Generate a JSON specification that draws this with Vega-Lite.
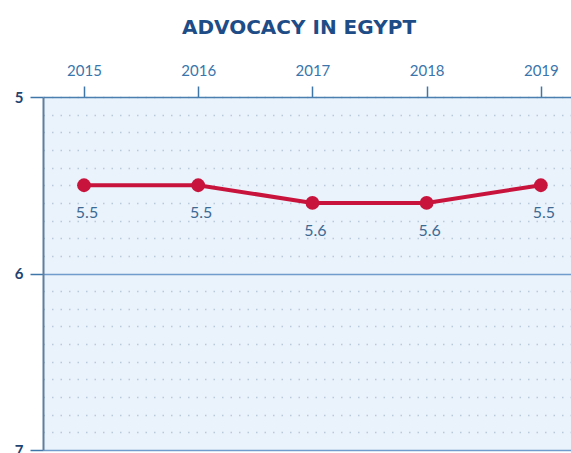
{
  "$schema": "https://vega.github.io/schema/vega-lite/v6.json",
  "autosize": "none",
  "padding": {"left": 43, "top": 97, "right": 0, "bottom": 3},
  "width": 528,
  "height": 353,
  "background": "#ffffff",
  "title": {
    "text": "ADVOCACY IN EGYPT",
    "font": "DejaVu Sans",
    "fontWeight": "bold",
    "fontSize": 20,
    "color": "#1d4c86",
    "anchor": "middle",
    "dx": -8,
    "offset": 25
  },
  "config": {
    "view": {"fill": "#eaf2fb", "stroke": null}
  },
  "data": {
    "values": [
      {"year": 2015, "score": 5.5},
      {"year": 2016, "score": 5.5},
      {"year": 2017, "score": 5.6},
      {"year": 2018, "score": 5.6},
      {"year": 2019, "score": 5.5}
    ]
  },
  "encoding": {
    "x": {
      "field": "year",
      "type": "quantitative",
      "scale": {"domain": [2014.641, 2019.264], "nice": false, "zero": false},
      "axis": {
        "orient": "top",
        "title": null,
        "values": [2015, 2016, 2017, 2018, 2019],
        "format": "d",
        "grid": false,
        "domainColor": "#4a7fb0",
        "domainWidth": 1.5,
        "tickColor": "#3f76aa",
        "tickWidth": 1.5,
        "tickSize": 11,
        "labelColor": "#3a75ab",
        "labelFont": "Lato",
        "labelFontSize": 15,
        "labelPadding": 8
      }
    },
    "y": {
      "field": "score",
      "type": "quantitative",
      "scale": {"domain": [5, 7], "reverse": true, "nice": false, "zero": false},
      "axis": {
        "title": null,
        "values": [5, 5.1, 5.2, 5.3, 5.4, 5.5, 5.6, 5.7, 5.8, 5.9, 6, 6.1, 6.2, 6.3, 6.4, 6.5, 6.6, 6.7, 6.8, 6.9, 7],
        "labelExpr": "(datum.value == 5 || datum.value == 6 || datum.value == 7) ? ('' + datum.value) : ''",
        "labelOverlap": false,
        "labelColor": "#1f4370",
        "labelFont": "Lato",
        "labelFontWeight": "bold",
        "labelFontSize": 15,
        "labelPadding": 7,
        "labelBaseline": "middle",
        "domainColor": "#5f7f9f",
        "domainWidth": 2,
        "tickColor": "#3f76aa",
        "tickWidth": 1.5,
        "tickSize": {"condition": {"test": "datum.value == 5 || datum.value == 6 || datum.value == 7", "value": 13}, "value": 0},
        "grid": true,
        "gridColor": {"condition": {"test": "datum.value == 6 || datum.value == 7", "value": "#6f9ccc"}, "value": "#b9c9dc"},
        "gridDash": {"condition": {"test": "datum.value == 6 || datum.value == 7", "value": []}, "value": [1.5, 7]},
        "gridWidth": {"condition": {"test": "datum.value == 6 || datum.value == 7", "value": 1.5}, "value": 1.3}
      }
    }
  },
  "layer": [
    {
      "mark": {"type": "line", "color": "#c8143c", "strokeWidth": 4}
    },
    {
      "mark": {"type": "point", "filled": true, "color": "#c8143c", "opacity": 1, "size": 190}
    },
    {
      "mark": {"type": "text", "dy": 28, "dx": 3, "font": "Lato", "fontSize": 16, "color": "#3d6a93"},
      "encoding": {"text": {"field": "score", "type": "quantitative", "format": ".1f"}}
    }
  ]
}
